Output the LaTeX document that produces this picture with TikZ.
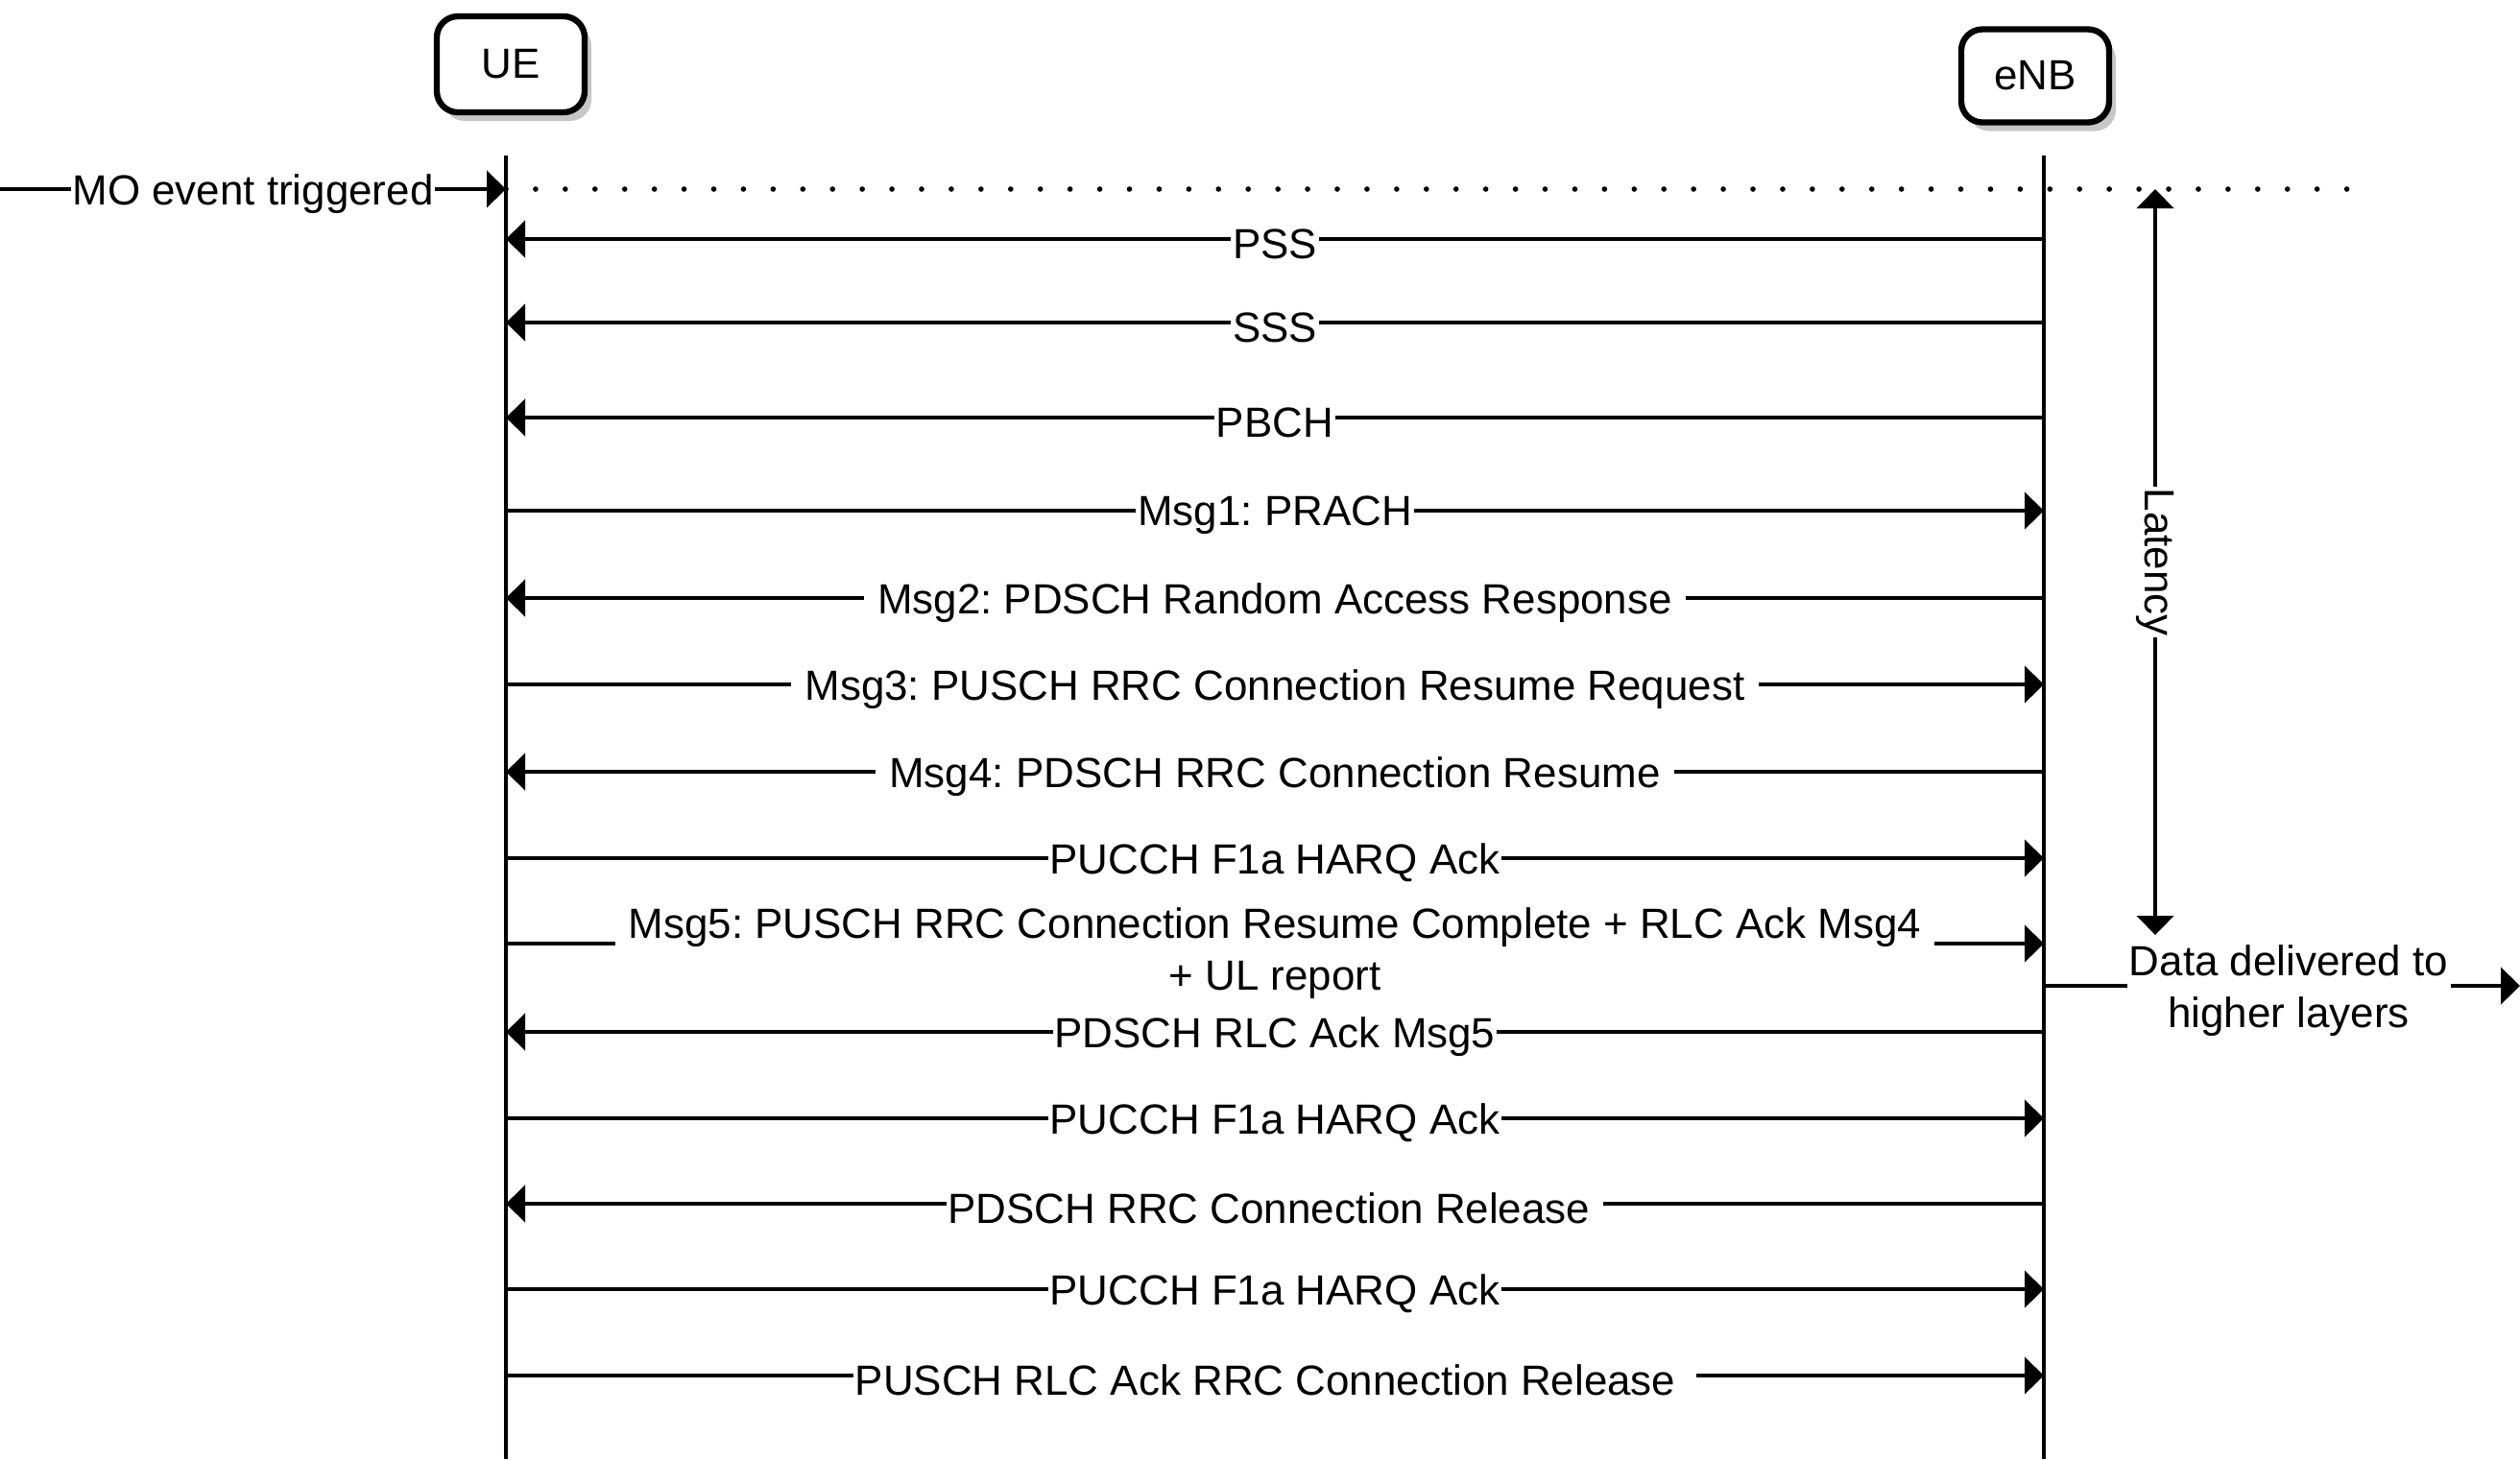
\documentclass[tikz,border=0pt]{standalone}
\usepackage{fontspec}
\setmainfont{Liberation Sans}
\usepackage{tikz}
\usetikzlibrary{arrows.meta,shadows}
\newcommand{\gap}{\kern0.28em}

\begin{document}
\begin{tikzpicture}[
  font=\fontsize{12.5}{15.5}\selectfont\frenchspacing,
  arrow/.style={-{Triangle[length=2mm,width=3.8mm]}, line width=1.3pt},
  plain/.style={line width=1.3pt},
  life/.style={line width=1.3pt},
  entity/.style={draw, line width=1.8pt, rounded corners=0.22cm, fill=white,
    minimum width=1.54cm, minimum height=1.0cm,
    drop shadow={shadow xshift=0.07cm, shadow yshift=-0.09cm, fill=black!40, opacity=0.55}},
  lbl/.style={fill=white, inner sep=0.5pt, yshift=-0.05cm},
  note/.style={align=center, inner sep=0.5pt, yshift=-0.05cm}
]
\useasboundingbox (0,0) rectangle (26.25,-15.2);

% entities and lifelines
\node[entity] (ue) at (5.32,-0.67) {UE};
\node[entity, minimum height=0.97cm] (enb) at (21.20,-0.79) {eNB};
\coordinate (uetop) at (5.27,-1.62);
\coordinate (uebot) at (5.27,-15.2);
\coordinate (enbtop) at (21.29,-1.62);
\coordinate (enbbot) at (21.29,-15.2);
\draw[life] (uetop) -- (uebot);
\draw[life] (enbtop) -- (enbbot);

% trigger and reference line
\coordinate (mostart) at (0,-1.97);
\coordinate (ue0) at (5.27,-1.97);
\coordinate (dotend) at (24.47,-1.97);
\draw[line width=1.6pt, line cap=round, dash pattern=on 0pt off 8.8pt] (ue0) -- (dotend);
\draw[arrow] (mostart) -- node[lbl] {MO event triggered} (ue0);

% message rows
\coordinate (ue1) at (5.27,-2.49);   \coordinate (enb1) at (21.29,-2.49);
\coordinate (ue2) at (5.27,-3.36);   \coordinate (enb2) at (21.29,-3.36);
\coordinate (ue3) at (5.27,-4.35);   \coordinate (enb3) at (21.29,-4.35);
\coordinate (ue4) at (5.27,-5.32);   \coordinate (enb4) at (21.29,-5.32);
\coordinate (ue5) at (5.27,-6.23);   \coordinate (enb5) at (21.29,-6.23);
\coordinate (ue6) at (5.27,-7.13);   \coordinate (enb6) at (21.29,-7.13);
\coordinate (ue7) at (5.27,-8.04);   \coordinate (enb7) at (21.29,-8.04);
\coordinate (ue8) at (5.27,-8.94);   \coordinate (enb8) at (21.29,-8.94);
\coordinate (ue9) at (5.27,-9.83);   \coordinate (enb9) at (21.29,-9.83);
\coordinate (ue10) at (5.27,-10.75); \coordinate (enb10) at (21.29,-10.75);
\coordinate (ue11) at (5.27,-11.65); \coordinate (enb11) at (21.29,-11.65);
\coordinate (ue12) at (5.27,-12.54); \coordinate (enb12) at (21.29,-12.54);
\coordinate (ue13) at (5.27,-13.43); \coordinate (enb13) at (21.29,-13.43);
\coordinate (ue14) at (5.27,-14.33); \coordinate (enb14) at (21.29,-14.33);

\draw[arrow] (enb1) -- node[lbl] {PSS} (ue1);
\draw[arrow] (enb2) -- node[lbl] {SSS} (ue2);
\draw[arrow] (enb3) -- node[lbl] {PBCH} (ue3);
\draw[arrow] (ue4) -- node[lbl] {Msg1: PRACH} (enb4);
\draw[arrow] (enb5) -- node[lbl] {\gap Msg2: PDSCH Random Access Response\gap} (ue5);
\draw[arrow] (ue6) -- node[lbl] {\gap Msg3: PUSCH RRC Connection Resume Request\gap} (enb6);
\draw[arrow] (enb7) -- node[lbl] {\gap Msg4: PDSCH RRC Connection Resume\gap} (ue7);
\draw[arrow] (ue8) -- node[lbl] {PUCCH F1a HARQ Ack} (enb8);
\draw[arrow] (ue9) -- node[lbl, note, inner xsep=4pt] {Msg5: PUSCH RRC Connection Resume Complete + RLC Ack Msg4\\+ UL report} (enb9);
\draw[arrow] (enb10) -- node[lbl] {PDSCH RLC Ack Msg5} (ue10);
\draw[arrow] (ue11) -- node[lbl] {PUCCH F1a HARQ Ack} (enb11);
\draw[arrow] (enb12) -- node[lbl] {PDSCH RRC Connection Release\gap} (ue12);
\draw[arrow] (ue13) -- node[lbl] {PUCCH F1a HARQ Ack} (enb13);
\draw[arrow] (ue14) -- node[lbl] {PUSCH RLC Ack RRC Connection Release\kern0.45em} (enb14);

% latency span
\coordinate (lattop) at (22.45,-1.97);
\coordinate (latbot) at (22.45,-9.74);
\draw[arrow, {Triangle[length=2mm,width=3.8mm]}-{Triangle[length=2mm,width=3.8mm]}]
  (lattop) -- node[fill=white, inner sep=0.5pt, rotate=-90] {Latency} (latbot);

% delivery to higher layers
\coordinate (enbdata) at (21.29,-10.27);
\coordinate (dataend) at (26.25,-10.27);
\node[note] (data) at (23.84,-10.27) {Data delivered to\\higher layers};
\draw[plain] (enbdata) -- (enbdata -| data.west);
\draw[arrow] (enbdata -| data.east) -- (dataend);
\end{tikzpicture}
\end{document}
